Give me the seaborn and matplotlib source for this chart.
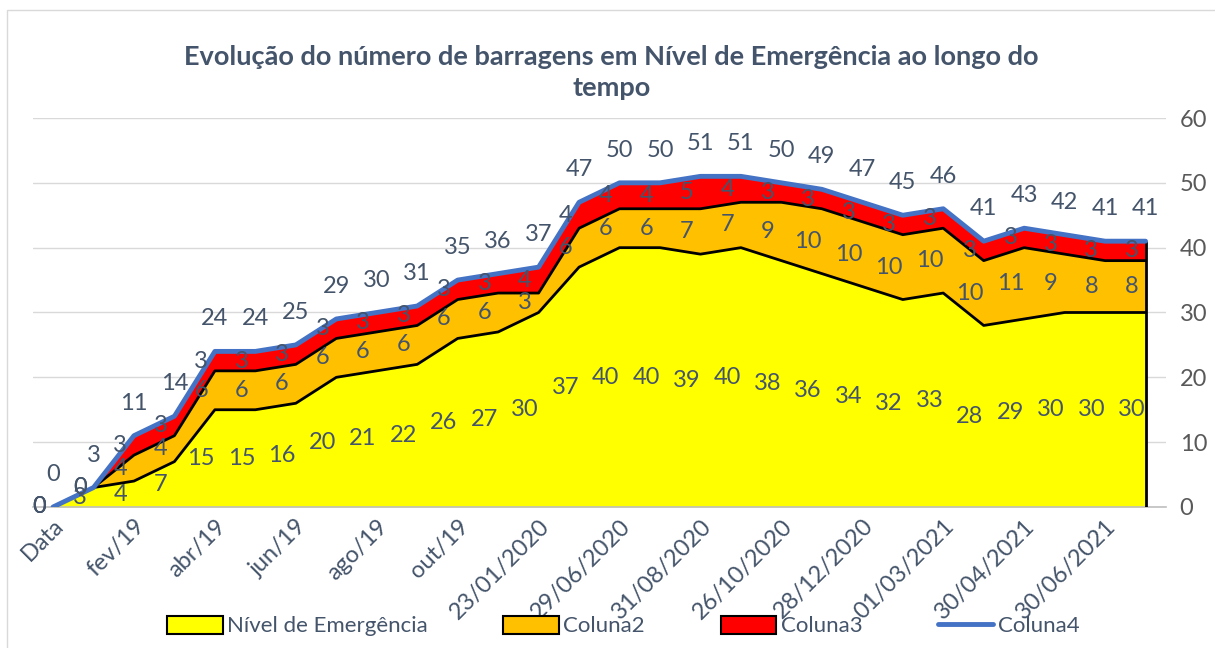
import numpy as np
import pandas as pd
import seaborn as sns
import matplotlib.pyplot as plt
from matplotlib.patches import Patch, Rectangle
from matplotlib.lines import Line2D

# Valores (28 datas, rotulos a cada duas)
rotulos_x = ['Data', 'fev/19', 'abr/19', 'jun/19', 'ago/19', 'out/19',
             '23/01/2020', '29/06/2020', '31/08/2020', '26/10/2020',
             '28/12/2020', '01/03/2021', '30/04/2021', '30/06/2021']
nivel = [0, 3, 4, 7, 15, 15, 16, 20, 21, 22, 26, 27, 30, 37, 40, 40, 39, 40,
         38, 36, 34, 32, 33, 28, 29, 30, 30, 30]
coluna2 = [0, 0, 4, 4, 6, 6, 6, 6, 6, 6, 6, 6, 3, 6, 6, 6, 7, 7,
           9, 10, 10, 10, 10, 10, 11, 9, 8, 8]
coluna3 = [0, 0, 3, 3, 3, 3, 3, 3, 3, 3, 3, 3, 4, 4, 4, 4, 5, 4,
           3, 3, 3, 3, 3, 3, 3, 3, 3, 3]
coluna4 = [0, 3, 11, 14, 24, 24, 25, 29, 30, 31, 35, 36, 37, 47, 50, 50, 51, 51,
           50, 49, 47, 45, 46, 41, 43, 42, 41, 41]

df = pd.DataFrame({'idx': np.arange(len(nivel)), 'nivel': nivel,
                   'coluna2': coluna2, 'coluna3': coluna3, 'coluna4': coluna4})
df['topo1'] = df['nivel']
df['topo2'] = df['topo1'] + df['coluna2']
df['topo3'] = df['topo2'] + df['coluna3']

sns.set_theme(style='white')
plt.rcParams['font.family'] = ['Lato', 'DejaVu Sans']

cor_texto = '#44546A'
tam = 17
fig = plt.figure(figsize=(12.15, 6.48), dpi=100)
ax = fig.add_axes([0.027, 0.2176, 0.9325, 0.6003])

x = df['idx']
ax.fill_between(x, 0, df['topo1'], color='#FFFF00', lw=0, zorder=2)
ax.fill_between(x, df['topo1'], df['topo2'], color='#FFC000', lw=0, zorder=2)
ax.fill_between(x, df['topo2'], df['topo3'], color='#FF0000', lw=0, zorder=2)
for col in ['topo1', 'topo2', 'topo3']:
    ax.plot(x, df[col], color='black', lw=2, zorder=3)
ax.vlines(x.iloc[-1], 0, df['topo3'].iloc[-1], color='black', lw=2, zorder=3)

sns.lineplot(data=df, x='idx', y='coluna4', color='#4472C4', lw=3.5,
             ax=ax, zorder=4, legend=False)

# rotulos de dados (as areas ficam um pouco a esquerda, como no Excel)
dx = -0.34
for i in range(len(df)):
    ax.text(i + dx, nivel[i] / 2, str(nivel[i]), ha='center', va='center',
            fontsize=tam, color=cor_texto, zorder=5, clip_on=False)
    ax.text(i + dx, df['topo1'][i] + coluna2[i] / 2, str(coluna2[i]), ha='center',
            va='center', fontsize=tam, color=cor_texto, zorder=5, clip_on=False)
    ax.text(i + dx, df['topo2'][i] + coluna3[i] / 2, str(coluna3[i]), ha='center',
            va='center', fontsize=tam, color=cor_texto, zorder=5, clip_on=False)
    ax.text(i, coluna4[i] + 5, str(coluna4[i]), ha='center', va='center',
            fontsize=tam, color=cor_texto, zorder=5, clip_on=False)

ax.set_xlim(-0.5, len(df) - 0.5)
ax.set_ylim(0, 60)
ax.set_xticks(np.arange(0, len(df), 2))
ax.set_xticklabels(rotulos_x, rotation=45, ha='right', rotation_mode='anchor',
                   fontsize=tam, color=cor_texto)
ax.set_yticks(np.arange(0, 61, 10))
ax.yaxis.tick_right()
ax.tick_params(axis='y', length=0, pad=10, labelsize=tam, labelcolor='#595959')
ax.tick_params(axis='x', length=0, pad=6)
ax.grid(axis='y', color='#D9D9D9', lw=1)
ax.set_axisbelow(True)
for s in ['top', 'left', 'right']:
    ax.spines[s].set_visible(False)
ax.spines['bottom'].set_color('#BFBFBF')
ax.spines['bottom'].set_linewidth(1.2)
ax.set_xlabel('')
ax.set_ylabel('')

fig.text(0.503, 0.888,
         'Evolução do número de barragens em Nível de Emergência ao longo do\ntempo',
         ha='center', va='center', fontsize=19.5, fontweight='bold',
         color=cor_texto, linespacing=1.35)

handles = [Patch(facecolor='#FFFF00', edgecolor='black', lw=1.5),
           Patch(facecolor='#FFC000', edgecolor='black', lw=1.5),
           Patch(facecolor='#FF0000', edgecolor='black', lw=1.5),
           Line2D([0], [0], color='#4472C4', lw=3.5)]
fig.legend(handles, ['Nível de Emergência', 'Coluna2', 'Coluna3', 'Coluna4'],
           loc='center', bbox_to_anchor=(0.513, 0.034), ncol=4, frameon=False,
           fontsize=16, handlelength=2.5, handleheight=0.9, handletextpad=0.2,
           columnspacing=3.4, labelcolor=cor_texto)

# moldura do grafico
fig.patches.append(Rectangle((7 / 1215, -0.01), 1.0, 1 - 10 / 648 + 0.01,
                             transform=fig.transFigure, fill=False,
                             edgecolor='#D9D9D9', lw=1))

fig.savefig('out.png', dpi=100)
